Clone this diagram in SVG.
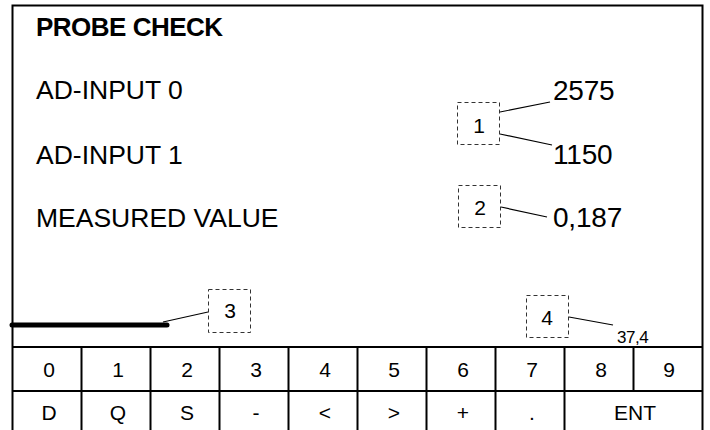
<svg xmlns="http://www.w3.org/2000/svg" width="710" height="430" viewBox="0 0 710 430">
<style>
text{font-family:"Liberation Sans",Arial,sans-serif;fill:#000}
.t{font-size:26.5px}
.h{font-size:26px;font-weight:bold;letter-spacing:-0.5px}
.v{font-size:28px;letter-spacing:-0.2px}
.n{font-size:21px;text-anchor:middle}
.k{font-size:21px;text-anchor:middle}
.s{font-size:17px;letter-spacing:-0.5px}
.frame{fill:none;stroke:#000;stroke-width:2}
.box{fill:none;stroke:#333;stroke-width:1;stroke-dasharray:4 3}
.lead{fill:none;stroke:#000;stroke-width:1.2}
</style>
<rect width="710" height="430" fill="#fff"/>
<g id="display">
<path class="frame" d="M12.5,432 V5.5 H702.5 V432"/>
<text class="h" x="36" y="36">PROBE CHECK</text>
<text class="t" x="36" y="99">AD-INPUT 0</text>
<text class="t" x="36" y="164">AD-INPUT 1</text>
<text class="t" x="36" y="227">MEASURED VALUE</text>
<text class="v" x="553" y="100">2575</text>
<text class="v" x="553" y="164">1150</text>
<text class="v" x="553" y="227">0,187</text>
<text class="s" x="617" y="343">37,4</text>
<line x1="12" y1="325" x2="167" y2="325" stroke="#000" stroke-width="5" stroke-linecap="round"/>
</g>
<g id="callout1"><rect class="box" x="457.5" y="102.5" width="42" height="42"/><text class="n" x="479" y="133">1</text></g>
<g id="callout2"><rect class="box" x="458.5" y="185.5" width="42" height="42"/><text class="n" x="480" y="215">2</text></g>
<g id="callout3"><rect class="box" x="208.5" y="289.5" width="42" height="43"/><text class="n" x="230" y="318">3</text></g>
<g id="callout4"><rect class="box" x="526.5" y="295.5" width="42" height="42"/><text class="n" x="547" y="325">4</text></g>
<g id="connectors">
<line class="lead" x1="500" y1="112" x2="550" y2="102"/>
<line class="lead" x1="500" y1="134" x2="552" y2="145"/>
<line class="lead" x1="501" y1="207" x2="547" y2="217"/>
<line class="lead" x1="208" y1="312" x2="163" y2="322"/>
<line class="lead" x1="569" y1="317" x2="613" y2="325"/>
</g>
<g id="keypad">
<path class="frame" d="M12.5,347 H702.5 M12.5,391 H702.5 M81.5,347 V432 M150.5,347 V432 M219.5,347 V432 M288.5,347 V432 M357.5,347 V432 M426.5,347 V432 M495.5,347 V432 M564.5,347 V432 M633.5,347 V391"/>
<text class="k" x="49" y="377">0</text>
<text class="k" x="118" y="377">1</text>
<text class="k" x="187" y="377">2</text>
<text class="k" x="256" y="377">3</text>
<text class="k" x="325" y="377">4</text>
<text class="k" x="394" y="377">5</text>
<text class="k" x="463" y="377">6</text>
<text class="k" x="532" y="377">7</text>
<text class="k" x="601" y="377">8</text>
<text class="k" x="669" y="377">9</text>
<text class="k" x="49" y="420">D</text>
<text class="k" x="118" y="420">Q</text>
<text class="k" x="187" y="420">S</text>
<text class="k" x="256" y="420">-</text>
<text class="k" x="325" y="420">&lt;</text>
<text class="k" x="394" y="420">&gt;</text>
<text class="k" x="463" y="420">+</text>
<text class="k" x="532" y="420">.</text>
<text class="k" x="635" y="420">ENT</text>
</g>
</svg>
